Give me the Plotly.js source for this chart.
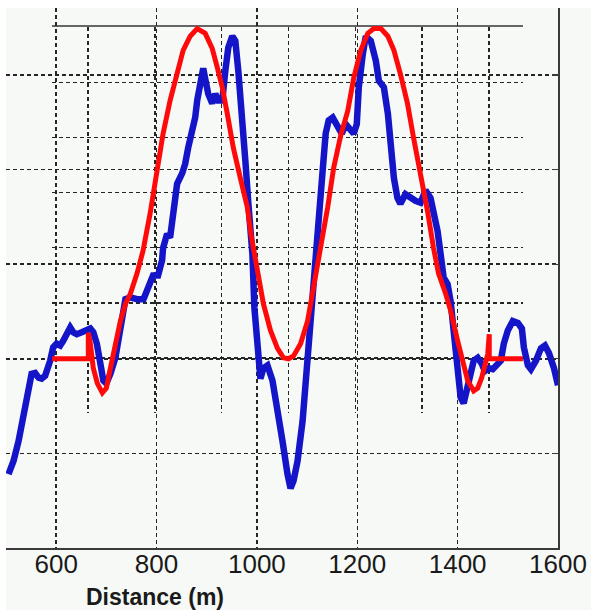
<!DOCTYPE html>
<html>
<head>
<meta charset="utf-8">
<script src="https://cdn.plot.ly/plotly-3.0.1.min.js"></script>
<style>html,body{margin:0;padding:0;background:#ffffff;}</style>
</head>
<body>
<div id="chart" style="width:591px;height:610px;"></div>
<script>
// Measured profile (blue)
const distBlue = [505,515,525,535,545,551,558,565,571,578,588,594,601,608,614,621,628,634,641,651,658,668,674,681,688,694,700,708,718,728,734,738,748,761,774,783,793,803,811,813,821,827,831,837,841,851,857,863,871,877,881,887,893,897,903,911,917,923,931,937,943,951,957,963,971,977,983,991,995,999,1003,1007,1013,1021,1031,1041,1051,1061,1067,1073,1081,1091,1097,1103,1111,1117,1123,1131,1137,1143,1151,1161,1169,1177,1185,1193,1199,1203,1211,1217,1227,1237,1243,1253,1261,1267,1273,1280,1286,1296,1306,1316,1326,1336,1346,1352,1360,1366,1372,1380,1386,1392,1400,1406,1412,1416,1422,1432,1440,1448,1454,1462,1470,1478,1486,1492,1500,1510,1520,1528,1532,1540,1546,1556,1566,1574,1582,1592,1600];
const valBlue = [-1.22,-1.08,-0.87,-0.58,-0.31,-0.16,-0.15,-0.20,-0.21,-0.18,-0.02,0.12,0.16,0.14,0.19,0.28,0.33,0.28,0.26,0.28,0.30,0.32,0.28,0.16,-0.05,-0.23,-0.26,-0.16,0.01,0.32,0.55,0.63,0.65,0.63,0.63,0.75,0.88,0.88,1.04,1.17,1.32,1.28,1.46,1.74,1.85,1.96,2.06,2.23,2.38,2.55,2.73,2.94,3.07,2.96,2.80,2.70,2.80,2.73,2.73,3.04,3.29,3.41,3.36,3.04,2.59,2.09,1.64,1.11,0.54,0.22,-0.13,-0.21,-0.10,-0.07,-0.23,-0.52,-0.87,-1.22,-1.37,-1.29,-1.08,-0.66,-0.23,0.16,0.58,1.04,1.53,1.99,2.38,2.52,2.55,2.46,2.38,2.48,2.44,2.38,2.48,2.87,3.22,3.41,3.36,3.15,2.94,2.87,2.59,2.23,1.91,1.70,1.64,1.74,1.70,1.67,1.65,1.78,1.70,1.56,1.35,1.11,0.86,0.79,0.61,0.30,-0.10,-0.41,-0.47,-0.37,-0.20,-0.02,0.01,-0.05,-0.13,-0.10,-0.11,-0.07,-0.02,0.16,0.30,0.40,0.38,0.32,0.12,-0.07,-0.11,-0.02,0.11,0.14,0.06,-0.10,-0.28];

// Model curve (red)
const distRed = [592,664,664,668,674,682,692,700,708,718,728,738,748,761,773,787,801,813,827,841,853,867,881,897,911,921,931,941,953,967,981,988,1001,1013,1027,1041,1053,1063,1073,1087,1101,1113,1127,1141,1153,1167,1181,1193,1207,1221,1233,1247,1261,1273,1286,1300,1312,1326,1340,1352,1362,1376,1386,1400,1410,1420,1432,1440,1448,1454,1460,1463,1463,1530];
const valRed = [0,0,0.275,0.16,-0.10,-0.26,-0.36,-0.31,-0.10,0.16,0.40,0.58,0.69,0.90,1.14,1.53,1.99,2.38,2.73,3.04,3.26,3.41,3.49,3.44,3.28,3.08,2.87,2.59,2.23,1.91,1.60,1.32,0.93,0.58,0.30,0.11,0.01,0,0.03,0.16,0.40,0.75,1.17,1.60,2.02,2.36,2.62,2.97,3.26,3.44,3.49,3.49,3.41,3.26,3.01,2.70,2.34,1.96,1.56,1.17,0.90,0.69,0.51,0.19,-0.05,-0.23,-0.34,-0.31,-0.20,-0.07,0.05,0.26,0,0];

const tickVals = [600,800,1000,1200,1400,1600];
const tickText = ['600','800','1000','1200','1400','1600'];

const gridCol = '#262626';
const dashPat = '4px,3px';
const bg = '#f6f9f6';

const traces = [
  // empty trace: only makes Plotly build the inset grid subplot, draws no mark
  {x: [], y: [], xaxis: 'x', yaxis: 'y', mode: 'lines', hoverinfo: 'skip', showlegend: false},
  {x: distBlue, y: valBlue, xaxis: 'x2', yaxis: 'y2', mode: 'lines',
   line: {color: '#1414c8', width: 6.5}, hoverinfo: 'skip', showlegend: false},
  {x: distRed, y: valRed, xaxis: 'x2', yaxis: 'y2', mode: 'lines',
   line: {color: '#ff0a0a', width: 5}, hoverinfo: 'skip', showlegend: false}
];

const layout = {
  width: 591, height: 610,
  margin: {l: 6, r: 33, t: 8, b: 62, pad: 0},
  paper_bgcolor: bg, plot_bgcolor: 'rgba(0,0,0,0)',
  showlegend: false,
  // inset grid of the model curve
  xaxis: {domain: [0.0833, 0.9366], anchor: 'y', range: [591.7, 1530.2],
    tick0: 663.4, dtick: 133.2, showgrid: true, gridcolor: gridCol, gridwidth: 1.5, griddash: dashPat,
    showticklabels: false, ticks: '', zeroline: false,
    showline: true, side: 'top', linecolor: '#666666', linewidth: 2},
  yaxis: {domain: [0.25, 0.9648], anchor: 'x', range: [-0.581, 3.499],
    tick0: 0, dtick: 0.583, showgrid: true, gridcolor: gridCol, gridwidth: 1.5, griddash: dashPat,
    showticklabels: false, ticks: '', zeroline: false, showline: false},
  // main axes
  xaxis2: {domain: [0, 1], anchor: 'y2', range: [500, 1600],
    tickmode: 'array', tickvals: tickVals, ticktext: tickText,
    showgrid: true, gridcolor: gridCol, gridwidth: 1.5, griddash: dashPat,
    ticks: '', zeroline: false, showline: true, linecolor: '#3a3a3a', linewidth: 1.5,
    ticklabeloverflow: 'allow', ticklabelstandoff: -8,
    tickfont: {family: 'Liberation Sans, Arial, sans-serif', size: 26, color: '#1a1a1a'}},
  yaxis2: {domain: [0, 1], anchor: 'x2', range: [-2, 3.708], side: 'right',
    tick0: 0, dtick: 1, showgrid: true, gridcolor: gridCol, gridwidth: 1.5, griddash: dashPat,
    showticklabels: false, ticks: 'inside', ticklen: 6, tickcolor: '#3a3a3a', tickwidth: 1.3,
    zeroline: false, showline: true, linecolor: '#3a3a3a', linewidth: 1.5},
  annotations: [
    {text: '<b>Distance (m)</b>', xref: 'paper', yref: 'paper', x: 0.27, y: -0.0907,
     xanchor: 'center', yanchor: 'middle', showarrow: false,
     font: {family: 'Liberation Sans, Arial, sans-serif', size: 23, color: '#1a1a1a'}}
  ],
  shapes: [
    {type: 'rect', xref: 'paper', yref: 'paper', x0: -0.02, x1: 0, y0: -0.2, y1: 1.1,
     fillcolor: '#ffffff', line: {width: 0}, layer: 'below'},
    {type: 'rect', xref: 'paper', yref: 'paper', x0: -0.02, x1: 1.1, y0: 1.0, y1: 1.1,
     fillcolor: '#ffffff', line: {width: 0}, layer: 'below'}
  ]
};

Plotly.newPlot('chart', traces, layout, {staticPlot: true, displayModeBar: false});
</script>
</body>
</html>
